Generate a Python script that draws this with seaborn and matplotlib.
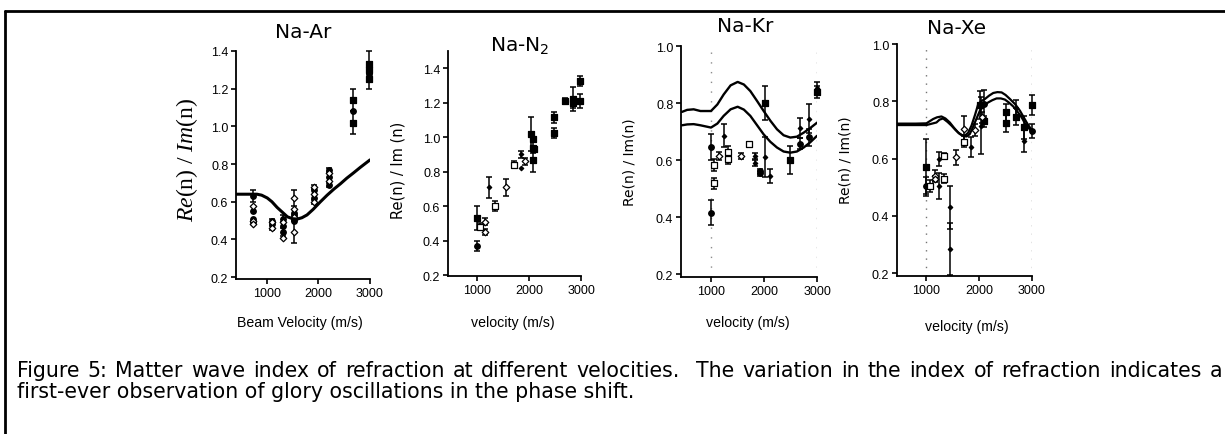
import numpy as np
import pandas as pd
import matplotlib
matplotlib.use("Agg")
import matplotlib.pyplot as plt
from matplotlib.lines import Line2D
import seaborn as sns

# ---------------- data ----------------
# Na-Ar
ar_v = [725, 725, 725, 725, 725, 725, 725,
        1096, 1096, 1096, 1096,
        1308, 1308, 1308, 1308, 1308,
        1525, 1525, 1525, 1525, 1525, 1525, 1525, 1525,
        1910, 1910, 1910, 1910, 1910,
        2198, 2198, 2198, 2198, 2198,
        2680, 2680, 2680,
        2990, 2990, 2990, 2990]
ar_r = [0.63, 0.58, 0.55, 0.51, 0.50, 0.49, 0.48,
        0.50, 0.49, 0.48, 0.46,
        0.51, 0.49, 0.47, 0.44, 0.41,
        0.62, 0.56, 0.54, 0.53, 0.52, 0.51, 0.50, 0.44,
        0.68, 0.66, 0.64, 0.62, 0.60,
        0.77, 0.75, 0.73, 0.71, 0.69,
        1.14, 1.08, 1.02,
        1.33, 1.30, 1.28, 1.25]
ar_err = [0.03, 0, 0, 0, 0, 0, 0,
          0.01, 0, 0, 0.01,
          0.02, 0, 0, 0.02, 0,
          0.04, 0, 0, 0, 0, 0, 0, 0.06,
          0.01, 0, 0, 0, 0.01,
          0.01, 0, 0, 0, 0.01,
          0.06, 0, 0.06,
          0.07, 0, 0, 0.05]
ar_kind = ["fc", "od", "fc", "fc", "od", "fc", "od",
           "fc", "od", "fc", "od",
           "fc", "od", "fc", "fc", "od",
           "od", "od", "fc", "fc", "od", "fc", "fc", "od",
           "od", "fc", "od", "fc", "od",
           "fc", "od", "fc", "od", "fc",
           "fs", "fc", "fs",
           "fs", "fs", "fc", "fs"]
ar_curve_v = [420, 600, 810, 900, 1010, 1100, 1200, 1300, 1400, 1500, 1590, 1680,
              1780, 1900, 2040, 2170, 2300, 2430, 2550, 2680, 2810, 2900, 3000]
ar_curve_r = [0.64, 0.64, 0.64, 0.635, 0.62, 0.60, 0.57, 0.545, 0.52, 0.51, 0.508, 0.515,
              0.53, 0.56, 0.60, 0.635, 0.667, 0.696, 0.725, 0.753, 0.782, 0.801, 0.822]

# Na-N2
n2_v = [1000, 1000, 1050, 1150, 1150, 1230, 1340, 1555, 1710, 1840, 1840, 1920,
        2030, 2080, 2080, 2100, 2080, 2490, 2490, 2690, 2840, 2840, 2980, 2980]
n2_r = [0.53, 0.37, 0.48, 0.51, 0.45, 0.71, 0.60, 0.71, 0.84, 0.82, 0.90, 0.86,
        1.02, 0.99, 0.94, 0.93, 0.87, 1.115, 1.025, 1.21, 1.22, 1.20, 1.325, 1.21]
n2_err = [0.07, 0.03, 0.02, 0.02, 0.02, 0.06, 0.03, 0.05, 0.02, 0, 0.02, 0.02,
          0.10, 0, 0.03, 0, 0.07, 0.03, 0.03, 0.02, 0.07, 0.03, 0.03, 0.04]
n2_kind = ["fs", "fc", "os", "od", "od", "sm", "os", "od", "os", "sm", "sm", "od",
           "fs", "fs", "fs", "fs", "fs", "fs", "fs", "fs", "fs", "fs", "fs", "fs"]

# Na-Kr
kr_v = [1000, 1000, 1063, 1063, 1150, 1240, 1320, 1320, 1572, 1711, 1836, 1836,
        1930, 1930, 2013, 2025, 2120, 2497, 2686, 2686, 2855, 2855, 3000, 3000]
kr_r = [0.646, 0.416, 0.583, 0.518, 0.615, 0.685, 0.628, 0.605, 0.615, 0.655, 0.615, 0.59,
        0.56, 0.553, 0.80, 0.612, 0.545, 0.60, 0.714, 0.658, 0.745, 0.68, 0.839, 0.854]
kr_err = [0.045, 0.045, 0.02, 0.02, 0.015, 0.04, 0.02, 0.02, 0.01, 0.01, 0.01, 0.01,
          0.01, 0.01, 0.06, 0.07, 0.025, 0.05, 0.035, 0.02, 0.05, 0.03, 0.02, 0.02]
kr_kind = ["fc", "fc", "os", "os", "od", "sm", "os", "os", "od", "os", "sm", "sm",
           "fc", "fc", "fs", "sm", "sm", "fs", "sm", "fc", "sm", "fc", "fs", "sm"]
kr_up_v = [453, 550, 673, 800, 1000, 1120, 1239, 1370, 1503, 1620, 1742, 1870, 1994,
           2120, 2245, 2370, 2497, 2620, 2748, 2870, 3000]
kr_up_r = [0.769, 0.776, 0.778, 0.772, 0.772, 0.795, 0.83, 0.862, 0.874, 0.865, 0.842,
           0.807, 0.772, 0.738, 0.708, 0.687, 0.679, 0.682, 0.696, 0.712, 0.731]
kr_lo_v = [453, 550, 673, 800, 1000, 1120, 1239, 1370, 1503, 1620, 1742, 1870, 1994,
           2120, 2245, 2370, 2497, 2620, 2748, 2870, 3000]
kr_lo_r = [0.722, 0.725, 0.726, 0.722, 0.714, 0.728, 0.755, 0.778, 0.787, 0.777, 0.755,
           0.722, 0.690, 0.664, 0.644, 0.630, 0.626, 0.630, 0.644, 0.662, 0.685]

# Na-Xe
xe_v = [1000, 1000, 1076, 1158, 1158, 1234, 1234, 1329, 1329, 1443, 1443, 1557,
        1709, 1709, 1842, 1918, 2013, 2040, 2060, 2089, 2089,
        2500, 2500, 2696, 2696, 2848, 2848, 3000, 3000]
xe_r = [0.569, 0.505, 0.505, 0.54, 0.528, 0.598, 0.505, 0.61, 0.53, 0.43, 0.284, 0.604,
        0.703, 0.659, 0.639, 0.70, 0.787, 0.715, 0.744, 0.79, 0.73,
        0.761, 0.724, 0.775, 0.746, 0.709, 0.662, 0.787, 0.697]
xe_err = [0.10, 0.03, 0.02, 0.02, 0.01, 0.025, 0.045, 0.01, 0.015, 0.075, 0.09, 0.025,
          0.045, 0.02, 0.035, 0.02, 0.05, 0.1, 0.02, 0.05, 0.02,
          0.03, 0.03, 0.03, 0.03, 0.04, 0.04, 0.035, 0.025]
xe_kind = ["fs", "fc", "os", "od", "od", "sm", "sm", "os", "os", "sm", "sm", "od",
           "od", "os", "sm", "od", "fs", "sm", "od", "fc", "fs",
           "fs", "fs", "sm", "fs", "fs", "sm", "fs", "fc"]
xe_a_v = [443, 600, 800, 1000, 1127, 1200, 1285, 1360, 1443, 1520, 1601, 1670, 1728, 1790,
          1854, 1920, 1981, 2045, 2108, 2190, 2266, 2345, 2424, 2500, 2582, 2680, 2772,
          2840, 2899, 3000]
xe_a_r = [0.722, 0.722, 0.722, 0.723, 0.738, 0.744, 0.747, 0.740, 0.726, 0.708, 0.691, 0.682,
          0.680, 0.690, 0.715, 0.752, 0.790, 0.801, 0.808, 0.820, 0.829, 0.832, 0.831,
          0.822, 0.808, 0.790, 0.767, 0.745, 0.726, 0.697]
xe_b_v = [443, 600, 800, 1000, 1190, 1250, 1316, 1400, 1475, 1550, 1630, 1700, 1760, 1820,
          1880, 1950, 2013, 2090, 2171, 2250, 2329, 2410, 2487, 2560, 2645, 2720, 2803,
          2870, 2930, 3000]
xe_b_r = [0.717, 0.717, 0.717, 0.717, 0.726, 0.736, 0.740, 0.728, 0.715, 0.700, 0.686, 0.679,
          0.677, 0.685, 0.709, 0.740, 0.767, 0.786, 0.796, 0.804, 0.810, 0.810, 0.806,
          0.796, 0.782, 0.765, 0.744, 0.722, 0.709, 0.691]

tick_v = [1000, 2000, 3000]

caption_1 = ("Figure 5: Matter wave index of refraction at different velocities.  "
             "The variation in the index of refraction indicates a")
caption_2 = "first-ever observation of glory oscillations in the phase shift."

# ---------------- style ----------------
sns.set_theme(style="ticks")
plt.rcParams["font.family"] = ["Liberation Sans", "DejaVu Sans"]
plt.rcParams["text.color"] = "black"
plt.rcParams["axes.labelcolor"] = "black"
plt.rcParams["xtick.color"] = "black"
plt.rcParams["ytick.color"] = "black"
plt.rcParams["mathtext.fontset"] = "custom"
plt.rcParams["mathtext.rm"] = "DejaVu Sans"
plt.rcParams["mathtext.it"] = "Liberation Serif:italic"

WIDE = ["DejaVu Sans"]

W, H = 1225, 435
fig = plt.figure(figsize=(W / 100, H / 100), dpi=100)
fig.patch.set_facecolor("white")


def fx(px):
    return px / W


def fy(py):
    return 1 - py / H


def make_ax(x0, x1, ytop, ybot, ylim, yticks):
    ax = fig.add_axes([fx(x0), fy(ybot), fx(x1) - fx(x0), fy(ytop) - fy(ybot)])
    ax.set_facecolor("none")
    sns.despine(ax=ax)
    for s in ("left", "bottom"):
        ax.spines[s].set_linewidth(1.3)
        ax.spines[s].set_color("black")
    ax.set_ylim(*ylim)
    ax.set_yticks(yticks)
    ax.set_yticklabels([f"{t:.1f}" for t in yticks])
    ax.set_xticks(tick_v)
    ax.set_xticklabels([str(t) for t in tick_v])
    ax.tick_params(axis="both", labelsize=9, length=3.5, width=1.2, color="black",
                   pad=2, labelcolor="black")
    ax.set_xlabel("")
    ax.set_ylabel("")
    return ax


STYLE = {
    "fc": dict(marker="o", facecolor="black", s=16),
    "fs": dict(marker="s", facecolor="black", s=20),
    "od": dict(marker="D", facecolor="white", s=11),
    "os": dict(marker="s", facecolor="white", s=20),
    "sm": dict(marker="D", facecolor="black", s=5),
}


def draw_points(ax, v, r, err, kind):
    df = pd.DataFrame({"v": v, "r": r, "err": err, "kind": kind})
    e = df[df["err"] > 0]
    ax.errorbar(e["v"], e["r"], yerr=e["err"], fmt="none", ecolor="black",
                elinewidth=1.1, capsize=2, capthick=1.1, zorder=2, clip_on=False)
    for k, sub in df.groupby("kind"):
        st = STYLE[k]
        sns.scatterplot(data=sub, x="v", y="r", ax=ax, marker=st["marker"],
                        s=st["s"], facecolor=st["facecolor"], edgecolor="black",
                        linewidth=0.9, zorder=3, clip_on=False, legend=False)
    ax.set_xlabel("")
    ax.set_ylabel("")


def draw_curve(ax, v, r, lw):
    df = pd.DataFrame({"v": v, "r": r})
    sns.lineplot(data=df, x="v", y="r", ax=ax, color="black", linewidth=lw,
                 sort=False, estimator=None, zorder=4)
    ax.set_xlabel("")
    ax.set_ylabel("")


# Panel 1: Na-Ar
ax1 = make_ax(236, 370, 52, 280, (0.19, 1.4), [0.2, 0.4, 0.6, 0.8, 1.0, 1.2, 1.4])
draw_points(ax1, ar_v, ar_r, ar_err, ar_kind)
draw_curve(ax1, ar_curve_v, ar_curve_r, 2.2)
ax1.set_xlim(404, 3000)

# Panel 2: Na-N2
ax2 = make_ax(448, 581, 52, 277, (0.195, 1.5), [0.2, 0.4, 0.6, 0.8, 1.0, 1.2, 1.4])
draw_points(ax2, n2_v, n2_r, n2_err, n2_kind)
ax2.set_xlim(442, 3000)

# Panel 3: Na-Kr
ax3 = make_ax(681, 817, 47, 278, (0.19, 1.0), [0.2, 0.4, 0.6, 0.8, 1.0])
for xv in (1000, 3000):
    ax3.axvline(xv, color="0.55", linestyle=(0, (1, 6)), linewidth=1.0, zorder=1)
draw_points(ax3, kr_v, kr_r, kr_err, kr_kind)
draw_curve(ax3, kr_up_v, kr_up_r, 1.7)
draw_curve(ax3, kr_lo_v, kr_lo_r, 1.7)
ax3.set_xlim(434, 3000)

# Panel 4: Na-Xe
ax4 = make_ax(897, 1032, 45, 277, (0.19, 1.0), [0.2, 0.4, 0.6, 0.8, 1.0])
for xv in (1000, 3000):
    ax4.axvline(xv, color="0.45", linestyle=(0, (1, 5)), linewidth=1.0, zorder=1)
draw_points(ax4, xe_v, xe_r, xe_err, xe_kind)
draw_curve(ax4, xe_a_v, xe_a_r, 1.6)
draw_curve(ax4, xe_b_v, xe_b_r, 1.6)
ax4.set_xlim(443, 3000)

# Titles
tkw = dict(ha="center", va="center", fontsize=14.5, family=WIDE)
fig.text(fx(303), fy(33), "Na-Ar", **tkw)
fig.text(fx(520), fy(45), r"Na-N$_\mathregular{2}$", **tkw)
fig.text(fx(745), fy(27), "Na-Kr", **tkw)
fig.text(fx(957), fy(28), "Na-Xe", **tkw)

# Y labels
fig.text(fx(187), fy(160), r"$\mathit{Re}$(n) / $\mathit{Im}$(n)", rotation=90,
         ha="center", va="center", fontsize=17, family="Liberation Serif")
fig.text(fx(398), fy(170), "Re(n) / Im (n)", rotation=90, ha="center", va="center",
         fontsize=10.5, family=WIDE)
fig.text(fx(629), fy(162), "Re(n) / Im(n)", rotation=90, ha="center", va="center",
         fontsize=10, family=WIDE)
fig.text(fx(845), fy(160), "Re(n) / Im(n)", rotation=90, ha="center", va="center",
         fontsize=10, family=WIDE)

# X labels
fig.text(fx(300), fy(323), "Beam Velocity (m/s)", ha="center", va="center", fontsize=10.2)
fig.text(fx(513), fy(323), "velocity (m/s)", ha="center", va="center", fontsize=10.2)
fig.text(fx(748), fy(323), "velocity (m/s)", ha="center", va="center", fontsize=10.2)
fig.text(fx(967), fy(327), "velocity (m/s)", ha="center", va="center", fontsize=10.2)

# Caption: first line justified between the margins, second line ragged
ckw = dict(ha="left", va="baseline", fontsize=14.8, family=WIDE)
renderer = fig.canvas.get_renderer()
words = caption_1.split(" ")
# empty strings mark extra spaces (double space after sentence end)
tokens = [w for w in words if w != ""]
gap_weights = []
i = 0
for j, w in enumerate(words):
    if w == "":
        gap_weights[-1] += 1
    else:
        if j > 0 and len(gap_weights) < len(tokens) - 1 and i > 0:
            pass
        if i < len(tokens) - 1:
            gap_weights.append(1)
        i += 1
texts = [fig.text(0, fy(377), w, **ckw) for w in tokens]
widths = [t.get_window_extent(renderer).width for t in texts]
left_px, right_px = 17, 1222
unit = (right_px - left_px - sum(widths)) / sum(gap_weights)
xpos = left_px
for k, t in enumerate(texts):
    t.set_x(fx(xpos))
    xpos += widths[k]
    if k < len(gap_weights):
        xpos += unit * gap_weights[k]
fig.text(fx(17), fy(398), caption_2, **ckw)

# Frame lines (top and left)
fig.add_artist(Line2D([fx(5), 1.0], [fy(12), fy(12)], color="black", linewidth=2.0))
fig.add_artist(Line2D([fx(5), fx(5)], [fy(12), 0.0], color="black", linewidth=2.0))

fig.savefig("out.png", dpi=100, facecolor="white")
